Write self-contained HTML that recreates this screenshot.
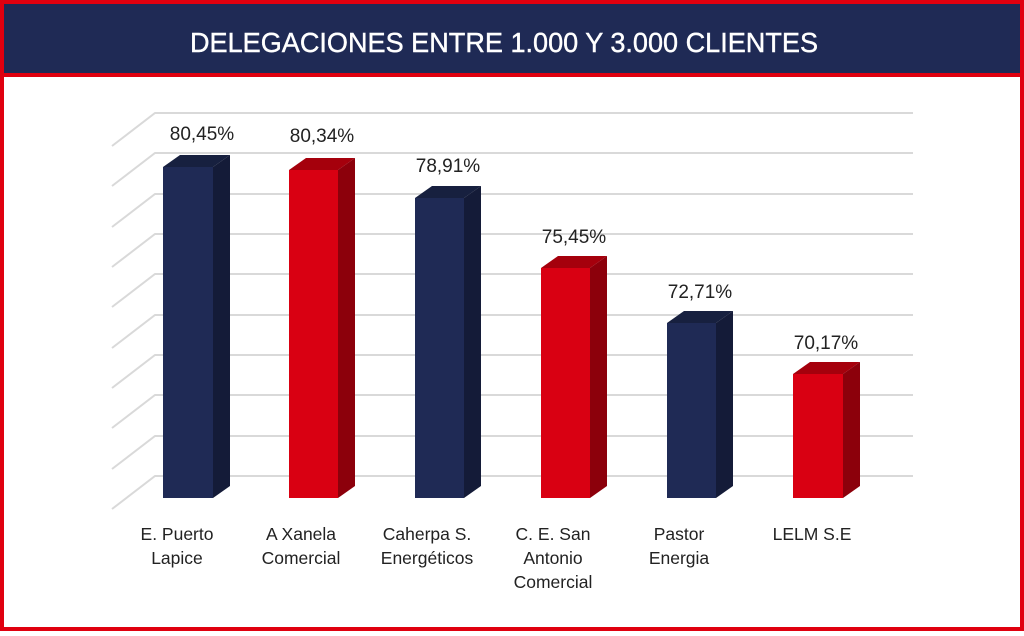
<!DOCTYPE html><html><head><style>
body{margin:0;width:1024px;height:631px;overflow:hidden;background:#fff;font-family:"Liberation Sans",sans-serif}
</style></head><body>
<svg width="1024" height="631" xmlns="http://www.w3.org/2000/svg" font-family="Liberation Sans, sans-serif">
<rect x="0" y="0" width="1024" height="631" fill="#e0000f"/>
<rect x="4" y="4" width="1016" height="623" fill="#fff"/>
<rect x="4" y="4" width="1016" height="69" fill="#1f2a55"/>
<rect x="4" y="73" width="1016" height="4" fill="#e0000f"/>
<text x="190" y="52" fill="#fff" font-size="28" textLength="628" lengthAdjust="spacingAndGlyphs" stroke="#fff" stroke-width="0.4">DELEGACIONES ENTRE 1.000 Y 3.000 CLIENTES</text>
<g stroke="#d9d9d9" stroke-width="2" fill="none">
<path d="M112 146L155 113H913M112 186L155 153H913M112 227L155 194H913M112 267L155 234H913M112 307L155 274H913M112 348L155 315H913M112 388L155 355H913M112 428L155 395H913M112 469L155 436H913M112 509L155 476H913"/>
</g>
<g>
<polygon points="163,167 180,155 230,155 213,167" fill="#17203f"/><polygon points="213,167 230,155 230,486 213,498" fill="#141b38"/><rect x="163" y="167" width="50" height="331" fill="#1f2a55"/>
<polygon points="289,170 306,158 355,158 338,170" fill="#a5000c"/><polygon points="338,170 355,158 355,486 338,498" fill="#8c000b"/><rect x="289" y="170" width="49" height="328" fill="#d90012"/>
<polygon points="415,198 432,186 481,186 464,198" fill="#17203f"/><polygon points="464,198 481,186 481,486 464,498" fill="#141b38"/><rect x="415" y="198" width="49" height="300" fill="#1f2a55"/>
<polygon points="541,268 558,256 607,256 590,268" fill="#a5000c"/><polygon points="590,268 607,256 607,486 590,498" fill="#8c000b"/><rect x="541" y="268" width="49" height="230" fill="#d90012"/>
<polygon points="667,323 684,311 733,311 716,323" fill="#17203f"/><polygon points="716,323 733,311 733,486 716,498" fill="#141b38"/><rect x="667" y="323" width="49" height="175" fill="#1f2a55"/>
<polygon points="793,374 810,362 860,362 843,374" fill="#a5000c"/><polygon points="843,374 860,362 860,486 843,498" fill="#8c000b"/><rect x="793" y="374" width="50" height="124" fill="#d90012"/>
</g>
<g font-size="19" fill="#222" text-anchor="middle">
<text x="202" y="140">80,45%</text><text x="322" y="142">80,34%</text><text x="448" y="172">78,91%</text><text x="574" y="243">75,45%</text><text x="700" y="298">72,71%</text><text x="826" y="349">70,17%</text>
</g>
<g font-size="17.5" fill="#222" text-anchor="middle">
<text x="177" y="540">E. Puerto</text><text x="177" y="564">Lapice</text>
<text x="301" y="540">A Xanela</text><text x="301" y="564">Comercial</text>
<text x="427" y="540">Caherpa S.</text><text x="427" y="564">Energéticos</text>
<text x="553" y="540">C. E. San</text><text x="553" y="564">Antonio</text><text x="553" y="588">Comercial</text>
<text x="679" y="540">Pastor</text><text x="679" y="564">Energia</text>
<text x="812" y="540">LELM S.E</text>
</g>
</svg>
</body></html>
